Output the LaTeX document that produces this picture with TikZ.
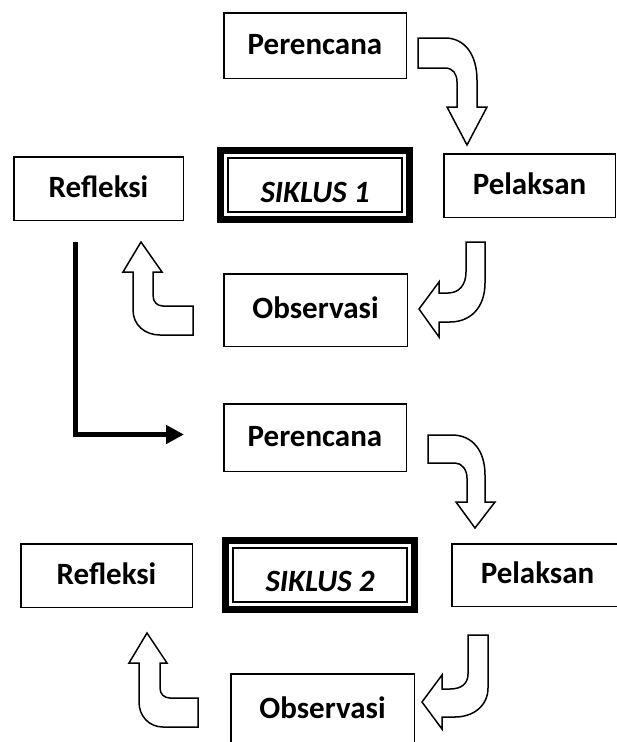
\documentclass[tikz,border=0pt]{standalone}
\usepackage{fontspec}
\setmainfont{Carlito}
\usetikzlibrary{arrows.meta}
\begin{document}
\begin{tikzpicture}[x=1pt,y=-1pt,
  box/.style={draw,line width=1.5pt,rectangle,inner sep=0pt,outer sep=0pt,
    font=\fontsize{31}{36}\selectfont\bfseries,text height=20pt,text depth=3pt},
  siklus/.style={draw,line width=7pt,rectangle,inner sep=0pt,outer sep=0pt,
    minimum width=189pt,minimum height=69pt},
  sikframe/.style={line width=2pt},
  siktext/.style={inner sep=0pt,font=\fontsize{31}{36}\selectfont\bfseries\itshape,
    text height=20pt,text depth=0pt},
  blockarrow/.style={draw,line width=1.5pt,fill=white,line join=miter},
  loopline/.style={line width=5.5pt,-{Triangle[length=18pt,width=18pt]}}
]
\useasboundingbox (0,0) rectangle (617,742);
\clip (0,0) rectangle (617,742);

% ---------- Cycle 1 ----------
\node[box,minimum width=182.5pt,minimum height=65.5pt] (per1) at (315,45.5) {Perencana};
\node[box,minimum width=169.5pt,minimum height=63.5pt] (ref1) at (98.5,188.5) {Refleksi};
\node[box,minimum width=171.5pt,minimum height=63.5pt] (pel1) at (529.5,185.5) {Pelaksan};
\node[box,minimum width=183.5pt,minimum height=72.5pt] (obs1) at (315.5,310) {Observasi};
\node[siklus] (sik1) at (315,185) {};
\draw[sikframe] ([xshift=7.5pt,yshift=-7.5pt]sik1.north west) rectangle ([xshift=-7.5pt,yshift=7.5pt]sik1.south east);
\node[siktext] (sik1t) at (315,192) {SIKLUS 1};

% arrow Perencana -> Pelaksan
\draw[blockarrow] (418,38) -- (445,38) .. controls (465,38) and (477,55) .. (477,80)
  -- (477,107) -- (487,107) -- (467,145) -- (447,107) -- (457,107) -- (457,82)
  .. controls (457,74) and (453,68) .. (445,68) -- (418,68) -- cycle;
% arrow Pelaksan -> Observasi
\draw[blockarrow] (466,242) -- (485,242) -- (485,283) .. controls (485,308) and (470,322) .. (450,322)
  -- (439,322) -- (439,337) -- (419,309) -- (439,282) -- (439,293) -- (448,293)
  .. controls (459,293) and (466,285) .. (466,272) -- cycle;
% arrow Observasi -> Refleksi
\draw[blockarrow] (193,306) -- (163,306) .. controls (157,306) and (153,302) .. (153,295)
  -- (153,272) -- (162,272) -- (141,242) -- (123,272) -- (133,272) -- (133,310)
  .. controls (133,325) and (145,335) .. (160,335) -- (193,335) -- cycle;

% link to cycle 2
\coordinate (lstart) at (75.5,242);
\coordinate (lend) at (184,434.5);
\draw[loopline] (lstart) |- (lend);

% ---------- Cycle 2 ----------
\node[box,minimum width=182.5pt,minimum height=67.5pt] (per2) at (315,437.5) {Perencana};
\node[box,minimum width=171.5pt,minimum height=63.5pt] (ref2) at (106.5,575.5) {Refleksi};
\node[box,minimum width=171.5pt,minimum height=62.5pt] (pel2) at (537.5,575) {Pelaksan};
\node[box,minimum width=183.5pt,minimum height=72.5pt] (obs2) at (322.5,710) {Observasi};
\node[siklus] (sik2) at (320,575) {};
\draw[sikframe] ([xshift=7.5pt,yshift=-7.5pt]sik2.north west) rectangle ([xshift=-7.5pt,yshift=7.5pt]sik2.south east);
\node[siktext] (sik2t) at (320,581.5) {SIKLUS 2};

% arrow Perencana -> Pelaksan
\draw[blockarrow] (428,435) -- (452,435) .. controls (472,435) and (485,450) .. (485,475)
  -- (485,502) -- (495,502) -- (475,528) -- (456,502) -- (467,502) -- (467,478)
  .. controls (467,470) and (462,463) .. (455,463) -- (428,463) -- cycle;
% arrow Pelaksan -> Observasi
\draw[blockarrow] (468,635) -- (488,635) -- (488,688) .. controls (488,706) and (473,717) .. (455,717)
  -- (442,717) -- (442,729) -- (422,702) -- (442,675) -- (442,689) -- (450,689)
  .. controls (461,689) and (468,684) .. (468,674) -- cycle;
% arrow Observasi -> Refleksi
\draw[blockarrow] (198,698) -- (170,698) .. controls (164,698) and (160,694) .. (160,688)
  -- (160,663) -- (167,663) -- (147,633) -- (129,663) -- (139,663) -- (139,702)
  .. controls (139,716) and (149,727) .. (163,727) -- (198,727) -- cycle;
\end{tikzpicture}
\end{document}
